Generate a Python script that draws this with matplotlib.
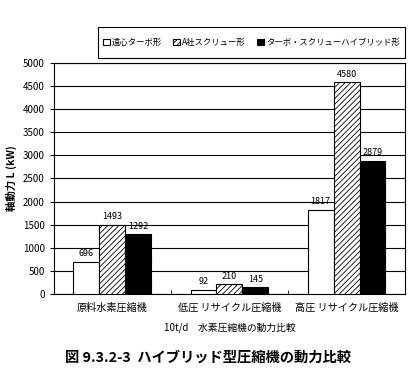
import numpy as np
import matplotlib
matplotlib.use('Agg')
from matplotlib import pyplot as plt
from matplotlib.patches import Patch, Rectangle

plt.rcParams['font.family'] = ['Noto Sans CJK JP', 'DejaVu Sans']
plt.rcParams['hatch.linewidth'] = 0.6

categories = ['原料水素圧縮機', '低圧 リサイクル圧縮機', '高圧 リサイクル圧縮機']
series_names = ['遠心ターボ形', 'A社スクリュー形', 'ターボ・スクリューハイブリッド形']
turbo = [696, 92, 1817]
screw = [1493, 210, 4580]
hybrid = [1292, 145, 2879]

fig = plt.figure(figsize=(4.18, 3.83), dpi=100)
ax = fig.add_axes([0.129, 0.232, 0.840, 0.604])

x = np.arange(len(categories))
w = 0.222
styles = [dict(facecolor='white', edgecolor='black', hatch=None),
          dict(facecolor='white', edgecolor='black', hatch='//////'),
          dict(facecolor='black', edgecolor='black', hatch=None)]
for i, vals in enumerate([turbo, screw, hybrid]):
    bars = ax.bar(x + (i - 1) * w, vals, w, linewidth=0.8, zorder=3, **styles[i])
    for b, v in zip(bars, vals):
        ax.text(b.get_x() + b.get_width() / 2, v + 80, str(v),
                ha='center', va='bottom', fontsize=6.5)

ax.set_xlim(-0.5, 2.5)
ax.set_ylim(0, 5000)
ax.set_yticks(np.arange(0, 5001, 500))
ax.tick_params(axis='y', labelsize=7, length=3, width=0.8)
ax.yaxis.grid(True, color='black', linewidth=0.8, zorder=0)
ax.set_xticks(x)
ax.set_xticklabels(categories, fontsize=7.3)
ax.tick_params(axis='x', length=0, pad=6)
ax.set_xticks([0.5, 1.5], minor=True)
ax.tick_params(axis='x', which='minor', direction='in', length=3)
for s in ax.spines.values():
    s.set_linewidth(0.8)

ax.set_ylabel('軸動力 L (kW)', fontsize=7.5, fontweight='bold', labelpad=4)
ax.set_xlabel('10t/d　水素圧縮機の動力比較', fontsize=7, labelpad=7)

# legend box drawn separately so its height can match
fig.patches.append(Rectangle((0.234, 0.849), 0.735, 0.081, transform=fig.transFigure,
                             facecolor='white', edgecolor='black', linewidth=0.8))
handles = [Patch(**styles[i], linewidth=0.8) for i in range(3)]
leg = fig.legend(handles, series_names, ncol=3, fontsize=6,
                 loc='center', bbox_to_anchor=(0.6015, 0.889),
                 frameon=False, handlelength=0.8, handleheight=0.8,
                 handletextpad=0.3, columnspacing=1.3)

fig.text(0.155, 0.055, '図 9.3.2-3  ハイブリッド型圧縮機の動力比較',
         fontsize=10.3, fontweight='bold', ha='left')

fig.savefig('out.png', dpi=100)
